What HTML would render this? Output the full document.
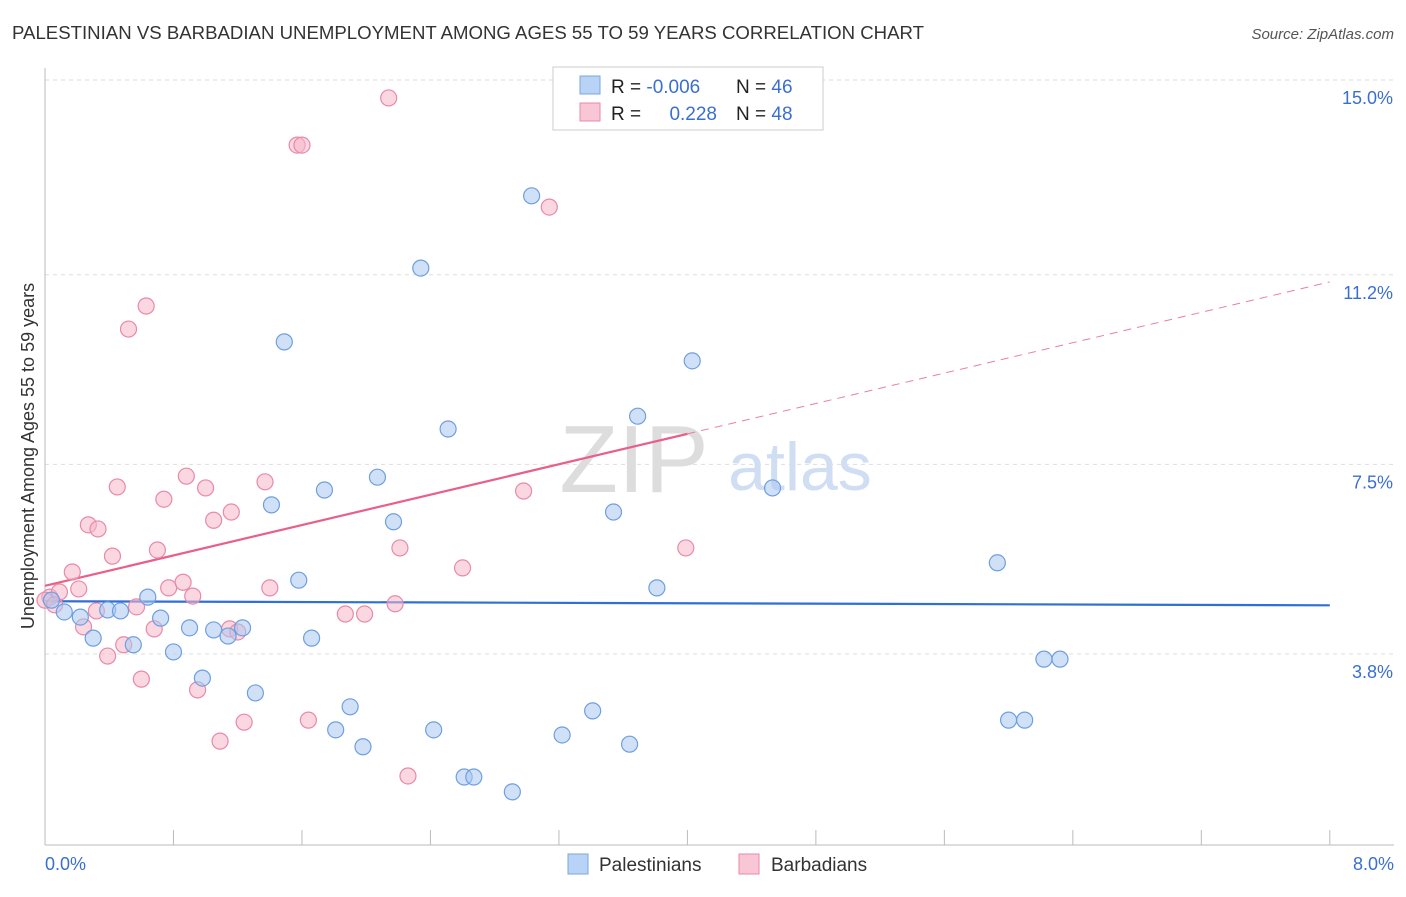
<!DOCTYPE html>
<html><head><meta charset="utf-8">
<style>
body{margin:0;background:#fff;font-family:"Liberation Sans",sans-serif;}
svg text{font-family:"Liberation Sans",sans-serif;}
</style></head>
<body>
<svg id="chart" width="1406" height="892">
<text x="12" y="39" font-size="18" fill="#333" textLength="912" lengthAdjust="spacingAndGlyphs">PALESTINIAN VS BARBADIAN UNEMPLOYMENT AMONG AGES 55 TO 59 YEARS CORRELATION CHART</text>
<text x="1394" y="39" font-size="15" fill="#555" font-style="italic" text-anchor="end">Source: ZipAtlas.com</text>
<text x="634" y="492" font-size="96" fill="#ddd" font-family="Liberation Serif" text-anchor="middle">ZIP</text>
<text x="800" y="490" font-size="68" fill="#d0def3" text-anchor="middle">atlas</text>
<g id="grid"></g><g id="axes"></g><g id="lines"></g><g id="pts"></g>
<text transform="translate(34,456) rotate(-90)" font-size="18" fill="#333" text-anchor="middle">Unemployment Among Ages 55 to 59 years</text>
<text x="45" y="870" font-size="18" fill="#3a6fd0">0.0%</text>
<text x="1394" y="870" font-size="18" fill="#3a6fd0" text-anchor="end">8.0%</text>
<g>
<rect x="553" y="67" width="270" height="63" fill="#fff" stroke="#ccc"/>
<rect x="580" y="76" width="20" height="18" fill="#b8d3f5" stroke="#7aa7e0"/>
<rect x="580" y="103" width="20" height="18" fill="#f9c6d5" stroke="#e88aa8"/>
<text x="611" y="93" font-size="19" fill="#222">R = <tspan fill="#3a6fd0">-0.006</tspan></text>
<text x="736" y="93" font-size="19" fill="#222">N = <tspan fill="#3a6fd0">46</tspan></text>
<text x="611" y="120" font-size="19" fill="#222">R = </text>
<text x="717" y="120" font-size="19" fill="#3a6fd0" text-anchor="end">0.228</text>
<text x="736" y="120" font-size="19" fill="#222">N = <tspan fill="#3a6fd0">48</tspan></text>
</g>
<g>
<rect x="568" y="854" width="20" height="20" fill="#b8d3f5" stroke="#7aa7e0"/>
<text x="599" y="871" font-size="19" fill="#333">Palestinians</text>
<rect x="739" y="854" width="20" height="20" fill="#f9c6d5" stroke="#e88aa8"/>
<text x="771" y="871" font-size="19" fill="#333">Barbadians</text>
</g>
</svg>
<script>
const yTicks=[15.0,11.2,7.5,3.8];
const yTickLabels=["15.0%","11.2%","7.5%","3.8%"];
const xTicks=[0,0.8,1.6,2.4,3.2,4.0,4.8,5.6,6.4,7.2,8.0];
const blueX=[0.04,0.12,0.22,0.30,0.39,0.47,0.55,0.64,0.72,0.80,0.90,0.98,1.05,1.14,1.23,1.31,1.41,1.49,1.58,1.66,1.74,1.81,1.90,1.98,2.07,2.17,2.34,2.42,2.51,2.61,2.67,2.91,3.03,3.22,3.41,3.54,3.64,3.69,3.81,4.03,4.53,5.93,6.00,6.10,6.22,6.32];
const blueY=[4.85,4.62,4.52,4.11,4.66,4.64,3.98,4.91,4.50,3.84,4.31,3.33,4.27,4.15,4.31,3.04,6.71,9.89,5.24,4.11,7.00,2.32,2.77,1.99,7.25,6.38,11.33,2.32,8.19,1.40,1.40,1.11,12.74,2.22,2.69,6.57,2.04,8.44,5.09,9.52,7.04,5.58,2.51,2.51,3.70,3.70];
const pinkX=[0.03,0.09,0.17,0.21,0.24,0.27,0.33,0.32,0.39,0.42,0.45,0.49,0.52,0.57,0.60,0.63,0.68,0.70,0.74,0.77,0.86,0.88,0.92,0.95,1.00,1.05,1.09,1.15,1.16,1.20,1.24,1.37,1.40,1.57,1.60,1.64,1.87,1.99,2.14,2.18,2.21,2.26,2.60,2.98,3.14,3.99,0.0,0.06];
const pinkY=[4.91,5.01,5.40,5.07,4.33,6.32,6.24,4.64,3.76,5.71,7.06,3.98,10.14,4.72,3.31,10.59,4.29,5.83,6.82,5.09,5.20,7.27,4.93,3.10,7.04,6.41,2.10,4.29,6.57,4.23,2.47,7.16,5.09,13.73,13.73,2.51,4.58,4.58,14.65,4.78,5.87,1.42,5.48,6.98,12.52,5.87,4.85,4.76];
const blueTrend=[4.83,4.75];
const pinkTrend=[5.13,11.06];
const pinkSolidEnd=4.0;
const X=v=>45+v*160.6, Y=v=>80+(15-v)*51.25;
const NS="http://www.w3.org/2000/svg";
function mk(t,a,p){const e=document.createElementNS(NS,t);for(const k in a)e.setAttribute(k,a[k]);p.appendChild(e);return e;}
const grid=document.getElementById('grid'),axes=document.getElementById('axes'),lines=document.getElementById('lines'),pts=document.getElementById('pts');
yTicks.forEach((v,i)=>{
 const l=mk('line',{x1:45,x2:1394,y1:Y(v),y2:Y(v),stroke:'#ddd','stroke-dasharray':'4,4'},grid);
 
 
 const t=mk('text',{x:1393,y:Y(v)+24,'font-size':18,fill:'#3a6fd0','text-anchor':'end'},grid);
 t.textContent=yTickLabels[i];
 
 
});
const ax=mk('line',{x1:45,x2:45,y1:68,y2:845,stroke:'#bbb'},axes);


const bx=mk('line',{x1:45,x2:1394,y1:845,y2:845,stroke:'#bbb'},axes);


xTicks.forEach(v=>{
 const t=mk('line',{x1:X(v),x2:X(v),y1:830,y2:845,stroke:'#bbb'},axes);
 
 
});
function dot(x,y,fill,stroke,name){
 const c=mk('circle',{cx:X(x),cy:Y(y),r:8,fill:fill,'fill-opacity':0.55,stroke:stroke,'stroke-width':1.2},pts);
 
 
}
pinkX.forEach((x,i)=>dot(x,pinkY[i],'#f7b6ca','#e88aa8','barbadian-point'));
blueX.forEach((x,i)=>dot(x,blueY[i],'#a9c8f0','#6e9fe0','palestinian-point'));
const bl=mk('line',{x1:X(0),x2:X(8),y1:Y(blueTrend[0]),y2:Y(blueTrend[1]),stroke:'#2f6fd6','stroke-width':2.2},lines);


const py=x=>pinkTrend[0]+(pinkTrend[1]-pinkTrend[0])*x/8;
const pl=mk('line',{x1:X(0),x2:X(pinkSolidEnd),y1:Y(py(0)),y2:Y(py(pinkSolidEnd)),stroke:'#e8608a','stroke-width':2.2},lines);


const pd=mk('line',{x1:X(pinkSolidEnd),x2:X(8),y1:Y(py(pinkSolidEnd)),y2:Y(py(8)),stroke:'#e8809f','stroke-width':1,'stroke-dasharray':'8,6'},lines);


</script>
</body></html>
